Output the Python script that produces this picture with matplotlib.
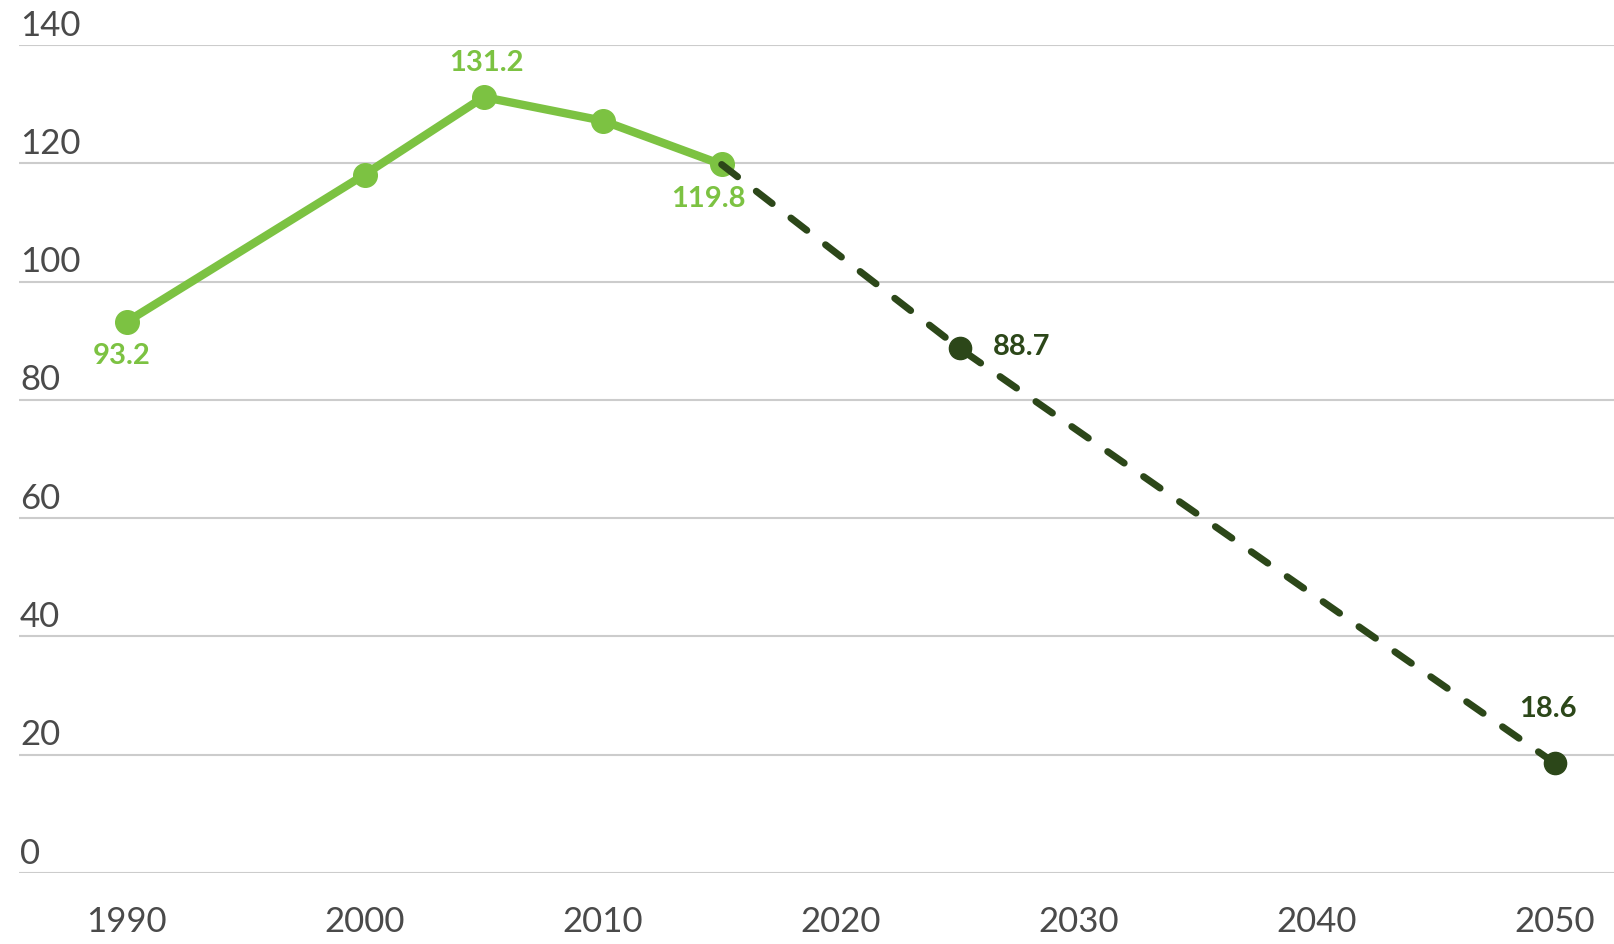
import matplotlib
matplotlib.use("Agg")
import matplotlib.pyplot as plt

# data
years_hist = [1990, 2000, 2005, 2010, 2015]
vals_hist = [93.2, 118.1, 131.2, 127.2, 119.8]
years_proj = [2015, 2025, 2050]
vals_proj = [119.8, 88.7, 18.6]
y_ticks = [0, 20, 40, 60, 80, 100, 120, 140]
x_ticks = [1990, 2000, 2010, 2020, 2030, 2040, 2050]

green = "#7cc242"
dark = "#2c4719"
grey_txt = "#4a4a4a"

plt.rcParams['font.family'] = ['Lato', 'DejaVu Sans']

fig = plt.figure(figsize=(16.14, 9.44), dpi=100)
ax = fig.add_axes([18.5 / 1614, 1 - 873 / 944, 1 - 18.5 / 1614, (873 - 45) / 944])
ax.set_xlim(1985.45, 2052.5)
ax.set_ylim(0, 140)

for s in ax.spines.values():
    s.set_visible(False)
ax.set_yticks(y_ticks)
ax.yaxis.grid(True, color="#cccccc", linewidth=1.5)
ax.set_axisbelow(True)
ax.tick_params(axis='y', length=0, labelleft=False)
for v in y_ticks:
    ax.annotate(str(v), xy=(0, v), xycoords=('axes fraction', 'data'),
                xytext=(1, 2.5), textcoords='offset points',
                ha='left', va='bottom', fontsize=25, color=grey_txt)

ax.set_xticks(x_ticks)
ax.set_xticklabels([str(x) for x in x_ticks], fontsize=25, color=grey_txt)
ax.tick_params(axis='x', length=0, pad=24)

ax.plot(years_hist, vals_hist, color=green, linewidth=6, marker='o', markersize=17,
        solid_capstyle='round', zorder=3)
ax.plot(years_proj, vals_proj, color=dark, linewidth=5, dashes=(2.9, 3.4),
        dash_capstyle='round', zorder=4)
ax.plot(years_proj[1:], vals_proj[1:], color=dark, linestyle='none', marker='o',
        markersize=16, zorder=5)

def label(x, y, txt, dx, dy, col, ha='center'):
    ax.annotate(txt, xy=(x, y), xytext=(dx * 0.72, dy * 0.72), textcoords='offset points',
                ha=ha, va='center', fontsize=21, fontweight='bold', color=col)

label(1990, 93.2, "93.2", -5, -34, green)
label(2005, 131.2, "131.2", 3, 34, green)
label(2015, 119.8, "119.8", -13, -35, green)
label(2025, 88.7, "88.7", 33, 1, dark, ha='left')
label(2050, 18.6, "18.6", -7, 54, dark)

fig.savefig("out.png", dpi=100)
